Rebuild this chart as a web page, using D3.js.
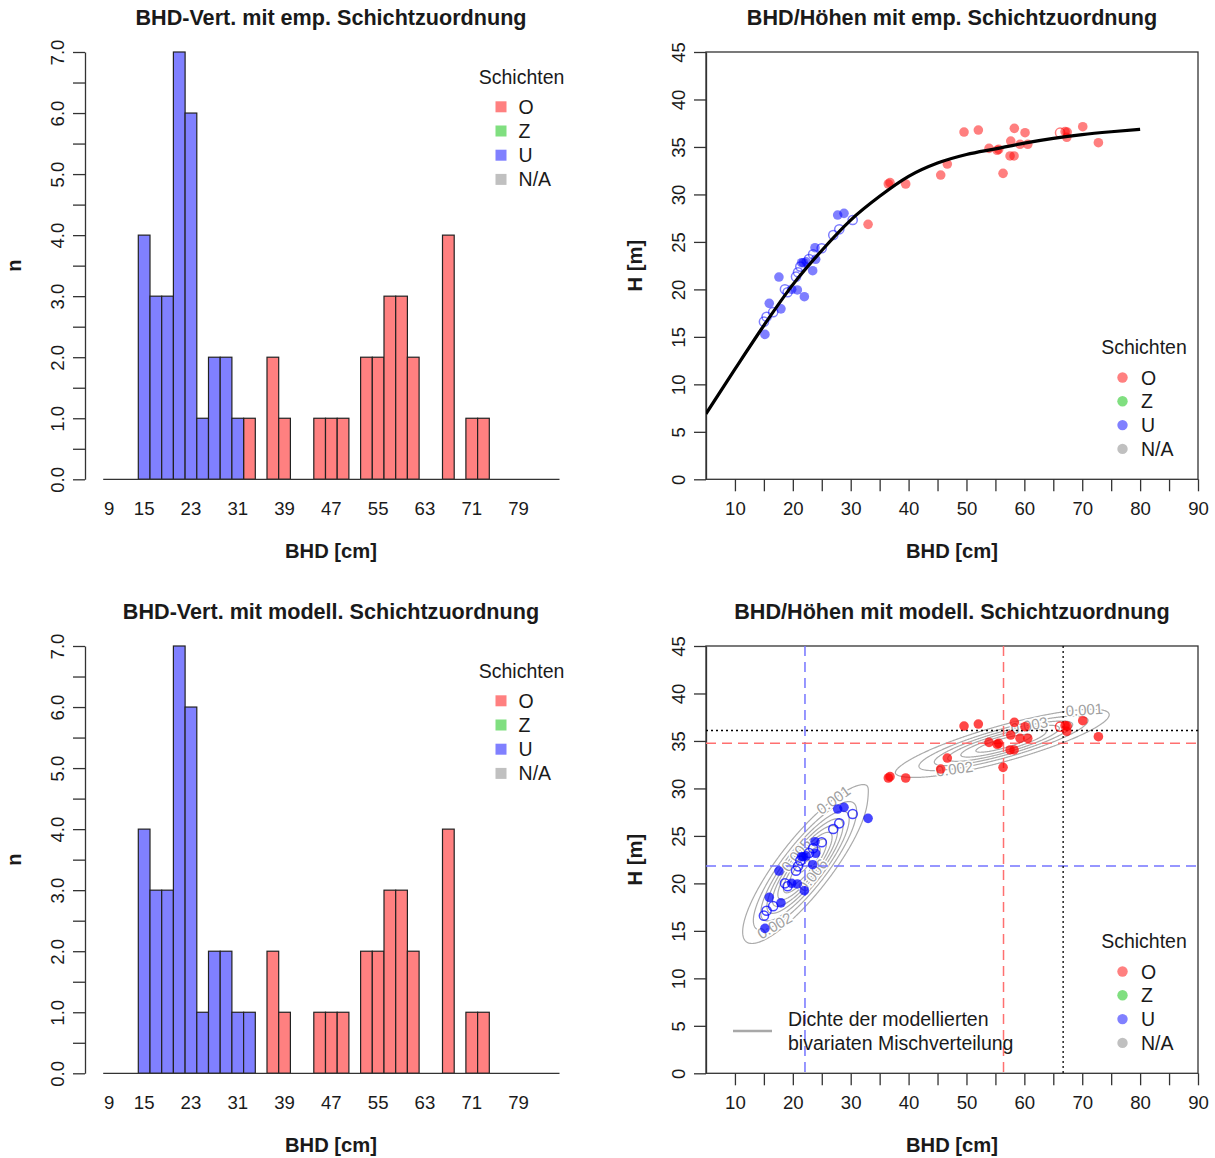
<!DOCTYPE html>
<html>
<head>
<meta charset="utf-8">
<script src="https://cdn.jsdelivr.net/npm/d3@7"></script>
<style>
  body { margin: 0; background: #fff; }
  svg { display: block; }
  text { font-family: "Liberation Sans", Arial, sans-serif; fill: #1a1a1a; }
</style>
</head>
<body>
<svg id="fig" width="1215" height="1158"></svg>
<script>
// ---------------- data ----------------
// diameter at breast height (cm) and tree height (m) for every tree
const bhd = [15.18, 15.01, 15.47, 15.93, 16.6, 17.60, 17.95, 18.64, 19.1, 19.80,
             20.78, 21.99, 21.52, 21.81, 20.55, 20.9, 21.3, 23.43, 23.83, 23.95,
             22.8, 23.5, 22.3, 24.99, 26.99, 27.75, 28.03, 28.84, 30.34,
             33.0, 36.5, 36.79, 39.5, 45.55, 46.69, 49.58, 52.05, 53.9, 55.3,
             55.57, 56.32, 57.53, 57.65, 58.22, 58.27, 59.25, 60.12, 60.59, 66.17,
             67.04, 67.4, 67.33, 70.09, 72.79];
const hoehe = [15.26, 16.60, 17.12, 18.53, 17.6, 21.30, 17.95, 20.01, 19.7, 20.01,
               19.94, 19.23, 22.81, 22.81, 21.34, 21.8, 22.4, 21.97, 24.39, 23.17,
               23.2, 23.7, 22.9, 24.33, 25.73, 27.83, 26.33, 28.01, 27.31,
               26.85, 31.1, 31.24, 31.1, 32.04, 33.2, 36.57, 36.78, 34.85, 34.65,
               34.75, 32.22, 34.05, 35.62, 34.05, 36.96, 35.28, 36.5, 35.28, 36.5,
               36.61, 36.57, 36.02, 37.13, 35.45];
// open symbol = tree flagged separately (drawn hollow)
const hollow = [0,1,1,0,1,0,0,1,1,0, 0,0,0,0,1,1,1,0,0,0, 1,1,0,1,1,0,1,0,1,
                0,0,0,0,0,0,0,0,0,0, 0,0,0,0,0,0,0,0,0,1, 0,0,0,0,0];
// empirical layer assignment
const layerEmp = [...Array(29).fill("U"), ...Array(25).fill("O")];
// model-based layer assignment
const layerMod = [...Array(30).fill("U"), ...Array(24).fill("O")];

// layers and legend
const layers = ["O", "Z", "U", "N/A"];
const layerColors = ["rgb(255,0,0)", "rgb(0,190,0)", "rgb(0,0,255)", "rgb(128,128,128)"];
const layerLight  = ["#ff8080", "#80df80", "#8080ff", "#c0c0c0"];
const layerDash   = ["#ff7070", "#60d060", "#7474ff", "#a0a0a0"];

// histogram tick labels
const histTickLabels = [9, 15, 23, 31, 39, 47, 55, 63, 71, 79];

// fitted height curve (BHD -> H)
const curveBhd = [5, 10, 15, 20, 25, 30, 35, 40, 45, 50, 55, 60, 65, 70, 75, 80];
const curveH   = [6.9, 11.6, 16.2, 20.5, 24.1, 27.3, 29.8, 31.9, 33.3, 34.2, 34.8, 35.4, 35.9, 36.3, 36.6, 36.85];

// bivariate normal mixture components
const compLayer  = ["U", "O"];
const compWeight = [0.6, 0.4];
const compMeanD  = [22.1, 56.4];
const compMeanH  = [21.83, 34.75];
const compSdD    = [5.12, 9.31];
const compSdH    = [3.88, 1.83];
const compRho    = [0.85, 0.838];
const contourLevels = [0.001, 0.002, 0.003, 0.004, 0.005, 0.006, 0.007, 0.008, 0.009, 0.010, 0.011];
// reference diameter / height (dotted cross-hair)
const refD = 66.7, refH = 36.1;

// ---------------- layout ----------------
const svg = d3.select("#fig");
const rowOffset = [0, 594];
const FS_TICK = 18.6, FS_LAB = 20.2, FS_TITLE = 21.6, FS_LEG = 19.5;
const colorOf = l => layerColors[layers.indexOf(l)];
const lightOf = l => layerLight[layers.indexOf(l)];
const dashOf = l => layerDash[layers.indexOf(l)];

const yBase = 479.3, yTop = 52;
const xHist = d3.scaleLinear().domain([8, 86]).range([103.2, 559.5]);
const yHist = d3.scaleLinear().domain([0, 7]).range([yBase, yTop]);
const xSc = d3.scaleLinear().domain([5, 90]).range([706, 1198]);
const ySc = d3.scaleLinear().domain([0, 45]).range([yBase, yTop]);

function title(g, x, txt) {
  g.append("text").attr("x", x).attr("y", 17).attr("dy", "0.36em")
    .attr("text-anchor", "middle").style("font-weight", "bold")
    .style("font-size", FS_TITLE + "px").text(txt);
}

function styleYAxis(axisG) {
  axisG.select(".domain").attr("stroke", "#333").attr("stroke-width", 1.3);
  axisG.selectAll(".tick line").attr("stroke", "#333").attr("stroke-width", 1.3);
  axisG.selectAll(".tick text")
    .attr("x", null).attr("dy", null)
    .attr("transform", "translate(-28,0) rotate(-90)")
    .attr("text-anchor", "middle").attr("dominant-baseline", "central")
    .style("font-size", FS_TICK + "px").style("font-family", "Liberation Sans, Arial, sans-serif")
    .attr("fill", "#1a1a1a");
}

function drawHist(row, layerArr, txt) {
  const g = svg.append("g").attr("transform", `translate(0,${rowOffset[row]})`);
  title(g, 331, txt);

  const binner = d3.bin().domain([8, 86]).thresholds(d3.range(8, 86, 2));
  const base = new Map();
  ["O", "Z", "U", "N/A"].forEach(l => {
    const vals = bhd.filter((d, i) => layerArr[i] === l);
    binner(vals).forEach(b => {
      if (!b.length) return;
      const y0 = base.get(b.x0) || 0;
      g.append("rect")
        .attr("x", xHist(b.x0)).attr("width", xHist(b.x1) - xHist(b.x0))
        .attr("y", yHist(y0 + b.length)).attr("height", yHist(y0) - yHist(y0 + b.length))
        .attr("fill", lightOf(l))
        .attr("stroke", "#222").attr("stroke-width", 1.2);
      base.set(b.x0, y0 + b.length);
    });
  });

  // baseline
  g.append("line").attr("x1", xHist(8)).attr("x2", xHist(86))
    .attr("y1", yHist(0)).attr("y2", yHist(0)).attr("stroke", "#333").attr("stroke-width", 1.3);
  g.selectAll(".hl").data(histTickLabels).enter().append("text")
    .attr("x", d => xHist(d)).attr("y", yBase + 29).attr("dy", "0.36em")
    .attr("text-anchor", "middle").style("font-size", FS_TICK + "px").text(d => d);

  const ax = g.append("g").attr("transform", `translate(85,0)`)
    .call(d3.axisLeft(yHist).tickValues(d3.range(0, 15).map(i => i / 2))
      .tickSize(12).tickSizeOuter(0)
      .tickFormat(d => (d % 1 === 0 ? d.toFixed(1) : "")));
  styleYAxis(ax);

  g.append("text").attr("x", 331).attr("y", yBase + 71).attr("dy", "0.36em")
    .attr("text-anchor", "middle").style("font-weight", "bold").style("font-size", FS_LAB + "px").text("BHD [cm]");
  g.append("text").attr("transform", `translate(14,${(yBase + yTop) / 2}) rotate(-90)`)
    .attr("dominant-baseline", "central").attr("text-anchor", "middle")
    .style("font-weight", "bold").style("font-size", FS_LAB + "px").text("n");

  // legend
  const lg = g.append("g");
  lg.append("text").attr("x", 521.6).attr("y", 76.7).attr("dy", "0.36em").attr("text-anchor", "middle")
    .style("font-size", FS_LEG + "px").text("Schichten");
  layers.forEach((l, i) => {
    const y = 106.8 + i * 24.2;
    lg.append("rect").attr("x", 495.5).attr("y", y - 5.5).attr("width", 11).attr("height", 11)
      .attr("fill", layerLight[i]);
    lg.append("text").attr("x", 518.6).attr("y", y).attr("dy", "0.36em")
      .style("font-size", FS_LEG + "px").text(l);
  });
}

function drawScatterFrame(g, txt) {
  title(g, 952, txt);
  const ax = g.append("g").attr("transform", `translate(706,0)`)
    .call(d3.axisLeft(ySc).tickValues(d3.range(0, 46, 5)).tickSize(12).tickSizeOuter(0));
  styleYAxis(ax);
  const bx = g.append("g").attr("transform", `translate(0,${yBase})`)
    .call(d3.axisBottom(xSc).tickValues(d3.range(10, 91, 5)).tickSize(12).tickSizeOuter(0)
      .tickFormat(d => (d % 10 === 0 ? d : "")));
  bx.select(".domain").remove();
  bx.selectAll(".tick line").attr("stroke", "#333").attr("stroke-width", 1.3);
  bx.selectAll(".tick text").attr("y", 29).attr("dy", "0.36em")
    .style("font-size", FS_TICK + "px").style("font-family", "Liberation Sans, Arial, sans-serif").attr("fill", "#1a1a1a");
  g.append("rect").attr("x", 706).attr("y", yTop).attr("width", 1198 - 706).attr("height", yBase - yTop)
    .attr("fill", "none").attr("stroke", "#333").attr("stroke-width", 1.3);
  g.append("text").attr("x", 952).attr("y", yBase + 71).attr("dy", "0.36em")
    .attr("text-anchor", "middle").style("font-weight", "bold").style("font-size", FS_LAB + "px").text("BHD [cm]");
  g.append("text").attr("transform", `translate(635,${(yBase + yTop) / 2}) rotate(-90)`)
    .attr("dominant-baseline", "central").attr("text-anchor", "middle")
    .style("font-weight", "bold").style("font-size", FS_LAB + "px").text("H [m]");

  const lg = g.append("g");
  lg.append("text").attr("x", 1144).attr("y", 347).attr("dy", "0.36em").attr("text-anchor", "middle")
    .style("font-size", FS_LEG + "px").text("Schichten");
  layers.forEach((l, i) => {
    const y = 377.5 + i * 23.8;
    lg.append("circle").attr("cx", 1122.5).attr("cy", y).attr("r", 5.2)
      .attr("fill", layerLight[i]);
    lg.append("text").attr("x", 1141).attr("y", y).attr("dy", "0.36em")
      .style("font-size", FS_LEG + "px").text(l);
  });
}

function drawPoints(g, layerArr, alpha) {
  const pts = g.append("g").attr("clip-path", "url(#plotClip)");
  bhd.forEach((d, i) => {
    const c = pts.append("circle").attr("cx", xSc(d)).attr("cy", ySc(hoehe[i]));
    const col = colorOf(layerArr[i]);
    if (hollow[i]) {
      c.attr("r", 4.6).attr("fill", "none").attr("stroke", col).attr("stroke-opacity", alpha).attr("stroke-width", 1.5);
    } else {
      c.attr("r", 4.8).attr("fill", col).attr("fill-opacity", alpha);
    }
  });
}

svg.append("defs").append("clipPath").attr("id", "plotClip")
  .append("rect").attr("x", 706).attr("y", yTop).attr("width", 1198 - 706).attr("height", yBase - yTop);

// ---------------- panel 1: histogram, empirical layers ----------------
drawHist(0, layerEmp, "BHD-Vert. mit emp. Schichtzuordnung");

// ---------------- panel 2: height curve ----------------
{
  const g = svg.append("g");
  drawScatterFrame(g, "BHD/Höhen mit emp. Schichtzuordnung");
  drawPoints(g, layerEmp, 0.5);
  const line = d3.line().x(d => xSc(d[0])).y(d => ySc(d[1])).curve(d3.curveMonotoneX);
  g.append("path").datum(curveBhd.map((d, i) => [d, curveH[i]]))
    .attr("d", line).attr("fill", "none").attr("stroke", "#000").attr("stroke-width", 3.2)
    .attr("clip-path", "url(#plotClip)");
}

// ---------------- panel 3: histogram, model layers ----------------
drawHist(1, layerMod, "BHD-Vert. mit modell. Schichtzuordnung");

// ---------------- panel 4: mixture density ----------------
{
  const g = svg.append("g").attr("transform", `translate(0,${rowOffset[1]})`);
  drawScatterFrame(g, "BHD/Höhen mit modell. Schichtzuordnung");

  const comps = compLayer.map((l, k) => {
    const sx = compSdD[k], sy = compSdH[k], r = compRho[k];
    const s = Math.sqrt(1 - r * r);
    return { l, w: compWeight[k], mx: compMeanD[k], my: compMeanH[k], sx, sy, r, s,
             norm: compWeight[k] / (2 * Math.PI * sx * sy * s) };
  });
  const dens = (x, y) => d3.sum(comps, c => {
    const zx = (x - c.mx) / c.sx, zy = (y - c.my) / c.sy;
    return c.norm * Math.exp(-(zx * zx - 2 * c.r * zx * zy + zy * zy) / (2 * c.s * c.s));
  });

  const step = 0.1, x0 = 5, y0 = 0;
  const nx = Math.round(85 / step) + 1, ny = Math.round(45 / step) + 1;
  const vals = new Float64Array(nx * ny);
  for (let j = 0; j < ny; j++)
    for (let i = 0; i < nx; i++) vals[j * nx + i] = dens(x0 + i * step, y0 + j * step);

  const proj = d3.geoTransform({
    point: function (x, y) {
      this.stream.point(xSc(x0 + (x - 0.5) * step), ySc(y0 + (y - 0.5) * step));
    }
  });
  const cg = g.append("g").attr("clip-path", "url(#plotClip)");
  cg.selectAll("path").data(d3.contours().size([nx, ny]).thresholds(contourLevels)(vals))
    .enter().append("path").attr("d", d3.geoPath(proj))
    .attr("fill", "none").attr("stroke", "#ababab").attr("stroke-width", 1.2);

  // contour labels placed on the component ellipses, along the tangent
  const labelSpots = [
    { k: 0, level: 0.001, t: 1.1 }, { k: 0, level: 0.002, t: -2.2 },
    { k: 0, level: 0.005, t: 1.85 }, { k: 0, level: 0.006, t: -1.29 },
    { k: 1, level: 0.001, t: 0.7 }, { k: 1, level: 0.002, t: -2.19 },
    { k: 1, level: 0.003, t: 1.19 }
  ];
  labelSpots.forEach(sp => {
    const c = comps[sp.k];
    const kk = Math.sqrt(2 * Math.log(c.norm / sp.level));
    const pt = t => [c.mx + kk * c.sx * Math.cos(t),
                     c.my + kk * c.sy * (c.r * Math.cos(t) + c.s * Math.sin(t))];
    const p = pt(sp.t), q = pt(sp.t + 0.01);
    const px = xSc(p[0]), py = ySc(p[1]);
    let ang = Math.atan2(ySc(q[1]) - py, xSc(q[0]) - px) * 180 / Math.PI;
    if (ang > 90) ang -= 180; if (ang < -90) ang += 180;
    cg.append("text").attr("transform", `translate(${px},${py}) rotate(${ang})`)
      .attr("text-anchor", "middle").attr("dominant-baseline", "central")
      .attr("stroke", "#fff").attr("stroke-width", 3).attr("paint-order", "stroke")
      .style("fill", "#a0a0a0").style("font-size", "15px").text(sp.level.toFixed(3));
  });

  // component means and reference cross-hair
  const rg = g.append("g").attr("clip-path", "url(#plotClip)");
  comps.forEach(c => {
    const col = dashOf(c.l);
    rg.append("line").attr("x1", xSc(c.mx)).attr("x2", xSc(c.mx)).attr("y1", yTop).attr("y2", yBase)
      .attr("stroke", col).attr("stroke-width", 1.5).attr("stroke-dasharray", "10,6");
    rg.append("line").attr("x1", 706).attr("x2", 1198).attr("y1", ySc(c.my)).attr("y2", ySc(c.my))
      .attr("stroke", col).attr("stroke-width", 1.5).attr("stroke-dasharray", "10,6");
  });
  rg.append("line").attr("x1", xSc(refD)).attr("x2", xSc(refD)).attr("y1", yTop).attr("y2", yBase)
    .attr("stroke", "#000").attr("stroke-width", 1.3).attr("stroke-dasharray", "2,3");
  rg.append("line").attr("x1", 706).attr("x2", 1198).attr("y1", ySc(refH)).attr("y2", ySc(refH))
    .attr("stroke", "#000").attr("stroke-width", 1.3).attr("stroke-dasharray", "2,3");

  drawPoints(g, layerMod, 0.72);

  // density legend
  g.append("line").attr("x1", 733).attr("x2", 772).attr("y1", 1031 - 594).attr("y2", 1031 - 594)
    .attr("stroke", "#a8a8a8").attr("stroke-width", 2.4);
  g.append("text").attr("x", 788).attr("y", 1019.3 - 594).attr("dy", "0.36em")
    .style("font-size", FS_LEG + "px").text("Dichte der modellierten");
  g.append("text").attr("x", 788).attr("y", 1042.7 - 594).attr("dy", "0.36em")
    .style("font-size", FS_LEG + "px").text("bivariaten Mischverteilung");
}
</script>
</body>
</html>
